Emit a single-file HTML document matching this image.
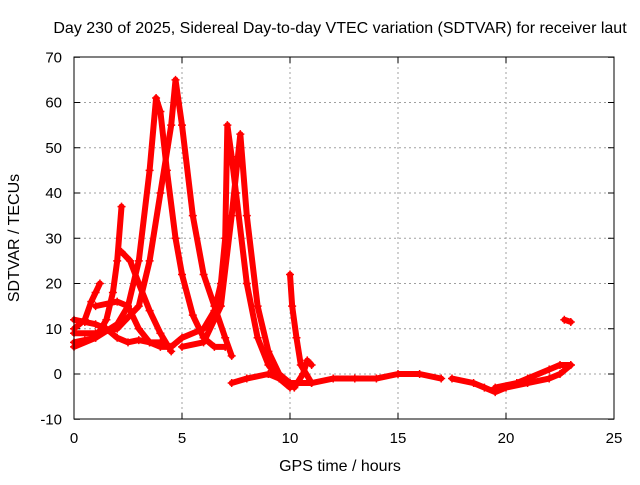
<!DOCTYPE html>
<html><head><meta charset="utf-8"><style>
body{margin:0;background:#fff;}
svg text{font-family:"Liberation Sans",sans-serif;font-size:15px;fill:#000;}
svg text.big{font-size:16px;}
</style></head><body>
<svg id="chart" width="640" height="480" viewBox="0 0 640 480" xmlns="http://www.w3.org/2000/svg">
<text class="big" x="340" y="33" text-anchor="middle">Day 230 of 2025, Sidereal Day-to-day VTEC variation (SDTVAR) for receiver laut</text>
<g id="grid"></g><g id="ticks"></g><g id="series"></g>
<rect x="74" y="57" width="540" height="362" fill="none" stroke="#000" stroke-width="1"/>
<text class="big" x="340" y="471" text-anchor="middle">GPS time / hours</text>
<text class="big" transform="translate(19,238) rotate(-90)" text-anchor="middle">SDTVAR / TECUs</text>
</svg>
<script>
const xTicks=[0,5,10,15,20,25];
const yTicks=[-10,0,10,20,30,40,50,60,70];
const trackA=[[0,7],[0.5,7.5],[1,8],[1.5,12],[1.8,18],[2,25],[2.2,37]];
const trackA2=[[2.2,27],[2.6,25],[3,20],[3.5,14],[4,9],[4.5,5]];
const trackB=[[0,12],[0.5,11.5],[1,11],[1.5,10],[2,8],[2.5,7],[3,7.5],[3.5,7],[4,7],[4.5,6]];
const trackC=[[0,10],[0.5,12],[0.8,16],[1,18],[1.2,20]];
const trackD=[[0,6],[1,8],[2,11],[2.5,15],[3,25],[3.5,45],[3.8,61],[4,58],[4.3,45],[4.7,30],[5,22],[5.5,13],[6,8],[6.5,6],[7,6]];
const trackE=[[0,9],[1,9],[2,10],[3,15],[3.5,25],[4,40],[4.5,55],[4.7,65],[5,55],[5.5,35],[6,22],[6.5,15],[7,8],[7.3,4]];
const trackF=[[1,15],[2,16],[2.5,15],[3,10],[3.5,7],[4,6],[4.5,6],[5,8],[6,10],[6.5,14],[6.8,20],[7,30],[7.1,55],[7.3,48],[7.5,40],[8,20],[8.5,8],[9,2],[9.5,-1],[10,-3]];
const trackG=[[5,6],[6,7],[6.8,15],[7.3,35],[7.7,53],[8,35],[8.5,15],[9,5],[9.5,0],[10,-2]];
const trackH=[[10,22],[10.1,15],[10.3,8],[10.5,2],[11,-2]];
const trackH2=[[10.2,-3],[10.6,0],[10.8,3],[11,2]];
const trackI=[[7.3,-2],[8,-1],[9,0],[10,-2],[11,-2],[12,-1],[13,-1],[14,-1],[15,0],[16,0],[17,-1]];
const trackJ=[[17.5,-1],[18.5,-2],[19,-3],[19.5,-4],[20,-3],[21,-2],[22,-1],[22.5,0],[23,2]];
const trackJ2=[[19.5,-3],[20.5,-2],[21,-1],[22,1],[22.5,2],[23,2]];
const trackK=[[22.7,12],[23,11.5]];
const tracks=[trackA,trackA2,trackB,trackC,trackD,trackE,trackF,trackG,trackH,trackH2,trackI,trackJ,trackJ2,trackK];
const NS="http://www.w3.org/2000/svg";
const X=t=>74+t/25*540, Y=v=>374-v*4.525;
const grid=document.getElementById('grid'),ticks=document.getElementById('ticks'),ser=document.getElementById('series');
function mk(tag,a,p){const e=document.createElementNS(NS,tag);for(const k in a)e.setAttribute(k,a[k]);p.appendChild(e);return e;}
xTicks.forEach(t=>{const x=X(t);
 if(t>0&&t<25){const g=mk('line',{x1:x,x2:x,y1:57,y2:419,stroke:'#a0a0a0','stroke-dasharray':'2,3'},grid);
 
 }
 mk('line',{x1:x,x2:x,y1:419,y2:413,stroke:'#000'},ticks);mk('line',{x1:x,x2:x,y1:57,y2:63,stroke:'#000'},ticks);
 const l=mk('text',{x:x,y:443,'text-anchor':'middle'},ticks);l.textContent=t;
 
 });
yTicks.forEach(v=>{const y=Y(v);
 if(v>-10&&v<70){const g=mk('line',{x1:74,x2:614,y1:y,y2:y,stroke:'#a0a0a0','stroke-dasharray':'2,3'},grid);
 
 }
 mk('line',{x1:74,x2:80,y1:y,y2:y,stroke:'#000'},ticks);mk('line',{x1:614,x2:608,y1:y,y2:y,stroke:'#000'},ticks);
 const l=mk('text',{x:62,y:y+5,'text-anchor':'end'},ticks);l.textContent=v;
 
 });
tracks.forEach((tr,i)=>{
 const pl=mk('polyline',{points:tr.map(p=>X(p[0])+','+Y(p[1])).join(' '),fill:'none',stroke:'#ff0000','stroke-width':6,'stroke-linejoin':'round','stroke-linecap':'round'},ser);
 
 
 tr.forEach(p=>{const x=X(p[0]),y=Y(p[1]);
  const m=mk('path',{d:`M${x-4},${y}H${x+4}M${x},${y-4}V${y+4}`,stroke:'#ff0000','stroke-width':1.5},ser);
  
  });
});
</script>
</body></html>
